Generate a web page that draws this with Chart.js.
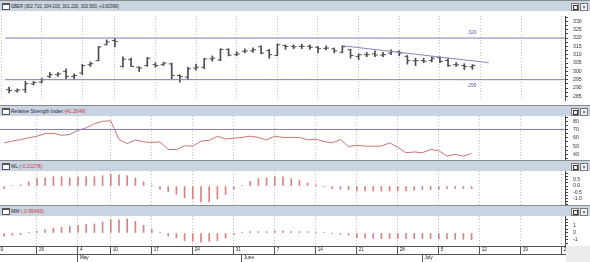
<!DOCTYPE html>
<html>
<head>
<meta charset="utf-8">
<script src="https://cdn.jsdelivr.net/npm/chart.js@4.4.1/dist/chart.umd.min.js"></script>
<style>
  body { margin:0; background:#fff; width:590px; height:262px; overflow:hidden; position:relative; font-family:"Liberation Sans", Arial, sans-serif; }
  .bar { position:absolute; left:0; width:590px; height:11px; background:#c8d4e1; border-top:1px solid #8c8c8c; box-sizing:border-box; font-size:5px; color:#2a2a2a; line-height:10px; white-space:nowrap; }
  .ic { position:absolute; left:2px; top:2px; width:6px; height:4px; border:1px solid #555; border-top-width:2px; background:#fff; }
  .tt { position:absolute; left:11px; top:0; transform-origin:left center; }
  .v { color:#d03a3a; }
  .btn { position:absolute; top:2px; width:6px; height:6px; border:1px solid #777; background:#f2f2f2; font-size:6px; line-height:6px; text-align:center; color:#222; }
  .btn i { position:absolute; left:1px; top:1px; width:3px; height:3px; border:1px solid #333; }
  canvas { position:absolute; left:0; }
  .corner { position:absolute; left:566px; top:246px; width:24px; height:16px; background:#ececec; }
</style>
</head>
<body>
<div class="bar" style="top:0"><span class="ic"></span><span class="tt" style="transform:scaleX(.88)">SBER (302.710, 304.100, 301.220, 303.560, +0.82999)</span><span class="btn" style="left:571px"><i></i></span><span class="btn" style="left:580px">×</span></div>
<canvas id="c1" width="590" height="94" style="top:11px"></canvas>
<div class="bar" style="top:105px"><span class="ic"></span><span class="tt">Relative Strength Index <span class="v">(41.2649)</span></span><span class="btn" style="left:571px"><i></i></span><span class="btn" style="left:580px">×</span></div>
<canvas id="c2" width="590" height="44" style="top:116px"></canvas>
<div class="bar" style="top:160px"><span class="ic"></span><span class="tt">ML <span class="v">(-0.21278)</span></span><span class="btn" style="left:571px"><i></i></span><span class="btn" style="left:580px">×</span></div>
<canvas id="c3" width="590" height="34" style="top:171px"></canvas>
<div class="bar" style="top:205px"><span class="ic"></span><span class="tt">MM <span class="v">(-0.95466)</span></span><span class="btn" style="left:571px"><i></i></span><span class="btn" style="left:580px">×</span></div>
<canvas id="c4" width="590" height="46" style="top:216px"></canvas>
<div class="corner"></div>
<script>
// one entry per trading day, index 0 = first bar on the left
const openP  = [289, 288.3, 289, 292.5, 293.5, 297, 298, 300, 297, 299, 304, 306.4, 316, 318.5, 303, 307, 302.5, 303.5, 304, 304,
                304.5, 297.5, 296.5, 302, 302.5, 307.5, 306.8, 313.2, 310, 312, 312.3, 314.8, 312.5, 309.5, 315.5, 315, 315, 315, 314.5, 313.8,
                313.5, 311.5, 313, 309, 310, 310.5, 309.8, 311, 311.8, 309, 306.4, 306.5, 306.5, 308.2, 306.5, 304, 303.5, 302.71];
const highP  = [290.5, 289.5, 294, 294, 296, 299.3, 299.3, 301.5, 298.5, 304.3, 305.7, 315, 318.9, 319.8, 308.7, 308, 302.8, 308.4, 305.2, 305.5,
                305, 298, 302.5, 304.3, 307.9, 309.3, 313.6, 313.6, 311.8, 313.6, 314.1, 315.4, 313.2, 316.4, 315.9, 315.9, 316.4, 315.9, 315, 315.4,
                314.1, 315.4, 313.2, 310.5, 311.4, 312.3, 311.4, 312.9, 312.3, 309.6, 307.9, 307.9, 308.8, 308.8, 307.9, 305.2, 304.6, 304.1];
const lowP   = [287, 287.5, 287.3, 291.8, 293, 296.2, 297, 295.5, 295.3, 298, 302.9, 306.4, 315.9, 314.7, 302.5, 303, 299.8, 303, 302.5, 303.5,
                295.5, 293.5, 295, 300.7, 301.6, 306.1, 306.4, 309.3, 309.3, 311.1, 311.4, 310.5, 307.9, 309.3, 313.2, 313.6, 313.6, 313.2, 311.1, 312.9,
                311.1, 311.1, 307.9, 307, 308.8, 308.8, 308.8, 310, 309.3, 304.3, 303.4, 305.2, 305.7, 305.2, 302.9, 302.9, 301.1, 301.22];
const closeP = [288.5, 288.8, 292.6, 293.2, 295, 298, 298.5, 297, 297.5, 303.4, 304.6, 314.7, 317.7, 318, 307.3, 303, 302, 307.8, 303.5, 305,
                297.5, 296.8, 301.6, 302.5, 307.5, 307.9, 313.2, 309.7, 310.5, 312.3, 313, 311, 310, 316, 315, 314.7, 315, 314.5, 313.6, 314,
                312.3, 314.7, 309.5, 310, 310, 309.8, 310, 311.8, 311, 306.4, 306.4, 306.1, 307.9, 306, 303.4, 303.9, 302.9, 303.56];
const rsi = [54, 56, 58, 60, 62, 65, 65.5, 63, 64, 69, 72, 77, 80, 80.5, 58, 53, 57.5, 55, 54.5, 55,
             46, 46, 50.5, 50, 56, 57, 62, 58.5, 59.5, 60.5, 62, 60.5, 57.5, 62, 60.5, 60.5, 60.5, 57.5, 58.5, 55.5,
             54, 58, 49.5, 51, 50, 50, 50, 54, 48.5, 42, 43, 42, 46, 44.5, 38, 40, 38, 41.26];
const ml = [-0.2, 0.05, 0.1, 0.33, 0.6, 0.65, 0.75, 0.75, 0.65, 0.75, 0.75, 0.75, 0.83, 0.94, 0.9, 0.83, 0.65, 0.33, 0.02, -0.25,
            -0.46, -0.67, -0.94, -1.05, -1.29, -1.29, -1.05, -0.67, -0.25, 0.05, 0.37, 0.6, 0.65, 0.75, 0.75, 0.6, 0.45, 0.25, 0.1, -0.05,
            -0.2, -0.25, -0.3, -0.4, -0.4, -0.4, -0.4, -0.4, -0.4, -0.4, -0.35, -0.3, -0.3, -0.28, -0.2, -0.2, -0.2, -0.21];
const mm = [-0.45, -0.33, -0.25, 0.05, 0.2, 0.48, 0.7, 0.8, 0.95, 1.1, 1.2, 1.3, 1.57, 1.9, 1.9, 2.0, 1.67, 1.1, 0.5, 0.05,
            -0.4, -0.7, -1.1, -1.2, -1.3, -1.2, -1.1, -0.7, -0.25, 0.1, 0.2, 0.2, 0.2, 0.3, 0.3, 0.2, 0.2, 0.2, 0.02, 0.1,
            -0.1, -0.2, -0.3, -0.7, -0.75, -0.75, -0.8, -0.8, -0.8, -0.8, -0.8, -0.8, -0.8, -0.85, -0.85, -0.9, -0.9, -0.95];

const weekTicks  = [-1, 4, 9, 13, 18, 23, 28, 33, 38, 43, 48, 53, 58, 63, 68];
const weekLabels = ['19', '26', '4', '10', '17', '24', '31', '7', '14', '21', '28', '5', '12', '19', '26'];
const monthTicks  = [9, 29, 51];
const monthLabels = ['May', 'June', 'July'];

const levels = [320, 295];
const rsiLevel = 70;
const trendX = [41, 59];
const trendY = [315.4, 305.2];

const priceLabels = [285, 290, 295, 300, 305, 310, 315, 320, 325, 330];
const rsiLabels = [40, 50, 60, 70, 80];
const mlLabels = [-1, -0.5, 0, 0.5];
const mmLabels = [-1, 0, 1];

/* ---------- shared look ---------- */
Chart.defaults.font.family = '"Liberation Sans", Arial, sans-serif';
Chart.defaults.animation = false;
Chart.defaults.events = [];
Chart.defaults.plugins.legend.display = false;
Chart.defaults.plugins.tooltip.enabled = false;

const X_MIN = -0.51, X_MAX = 68.39;
const BAR_INK = '#4c4c4c';
const LEVEL = '#7c7cba';
const HIST = '#da8282';

const steps = (a, b, s) => { const out = []; for (let v = a; v <= b + 1e-9; v += s) out.push({ value: +v.toFixed(4) }); return out; };

function xDays(withLabels) {
  return {
    type: 'linear', min: X_MIN, max: X_MAX, offset: false, weight: 0,
    afterBuildTicks: s => { s.ticks = weekTicks.map(v => ({ value: v })); },
    grid: { color: '#c2c2c2', offset: false, drawTicks: withLabels, tickLength: 8, tickColor: '#555', tickBorderDash: [] },
    border: { display: withLabels, color: '#555', dash: [1, 2] },
    ticks: { display: withLabels, autoSkip: false, maxRotation: 0, align: 'start', labelOffset: 2, padding: -6.7,
             color: '#222', font: { size: 4.6 }, callback: (v, i) => weekLabels[i] },
    afterFit: s => { s.height = withLabels ? 8 : 0; s.paddingLeft = 0; s.paddingRight = 0; }
  };
}

function yRight(min, max, step, labels, fmt) {
  return {
    type: 'linear', position: 'right', min, max,
    afterBuildTicks: s => { s.ticks = steps(Math.ceil(min / step) * step, max, step); },
    grid: { drawOnChartArea: false, tickLength: 3, tickColor: '#444' },
    border: { display: true, color: '#444' },
    ticks: { autoSkip: false, padding: 5, color: '#333', font: { size: 5.2 },
             callback: v => labels.some(l => Math.abs(l - v) < 1e-6) ? fmt(v) : '' },
    afterFit: s => { s.width = 25; s.paddingTop = 0; s.paddingBottom = 0; }
  };
}

/* ---------- price panel ---------- */
const levelText = {
  id: 'levelText',
  afterDatasetsDraw(chart) {
    const { ctx, scales: { x, y } } = chart;
    ctx.save();
    ctx.font = '5px "Liberation Sans"';
    ctx.fillStyle = '#5a5aa8';
    ctx.textAlign = 'center';
    ctx.textBaseline = 'middle';
    levels.forEach((v, i) => {
      ctx.fillText(String(v), x.getPixelForValue(57), y.getPixelForValue(v) + (i === 0 ? -5.5 : 5.5));
    });
    ctx.restore();
  }
};

new Chart(document.getElementById('c1'), {
  type: 'bar',
  plugins: [levelText],
  data: {
    datasets: [
      ...levels.map(v => ({ type: 'line', data: [{ x: X_MIN, y: v }, { x: X_MAX, y: v }], borderColor: LEVEL, borderWidth: 1, pointRadius: 0 })),
      { type: 'line', data: trendX.map((x, i) => ({ x, y: trendY[i] })), borderColor: '#8585c2', borderWidth: 1, pointRadius: 0 },
      { type: 'bar', data: highP.map((h, i) => ({ x: i, y: [lowP[i], h] })), backgroundColor: BAR_INK, barThickness: 1, grouped: false },
      { type: 'line', showLine: false, data: openP.map((o, i) => ({ x: i - 0.18, y: o })), pointStyle: 'line', pointRadius: 1.5, borderColor: BAR_INK, pointBorderWidth: 1 },
      { type: 'line', showLine: false, data: closeP.map((c, i) => ({ x: i + 0.18, y: c })), pointStyle: 'line', pointRadius: 1.5, borderColor: BAR_INK, pointBorderWidth: 1 }
    ]
  },
  options: {
    responsive: false,
    layout: { padding: 0 },
    scales: { x: xDays(false), y: yRight(282.8, 333.25, 2.5, priceLabels, v => String(v)) }
  }
});

/* ---------- RSI ---------- */
new Chart(document.getElementById('c2'), {
  type: 'line',
  data: {
    datasets: [
      { data: [{ x: X_MIN, y: rsiLevel }, { x: X_MAX, y: rsiLevel }], borderColor: LEVEL, borderWidth: 1, pointRadius: 0 },
      { data: rsi.map((v, i) => ({ x: i, y: v })), borderColor: '#c47676', borderWidth: 1, pointRadius: 0, tension: 0 }
    ]
  },
  options: {
    responsive: false,
    layout: { padding: 0 },
    scales: { x: xDays(false), y: yRight(33.3, 86.3, 5, rsiLabels, v => String(v)) }
  }
});

/* ---------- ML ---------- */
new Chart(document.getElementById('c3'), {
  type: 'bar',
  data: { datasets: [{ data: ml.map((v, i) => ({ x: i, y: v })), backgroundColor: HIST, barThickness: 1 }] },
  options: {
    responsive: false,
    layout: { padding: 0 },
    scales: { x: xDays(false), y: yRight(-1.53, 1.21, 0.25, mlLabels, v => v.toFixed(1)) }
  }
});

/* ---------- MM + date axis ---------- */
new Chart(document.getElementById('c4'), {
  type: 'bar',
  data: { datasets: [{ data: mm.map((v, i) => ({ x: i, y: v })), backgroundColor: HIST, barThickness: 1 }] },
  options: {
    responsive: false,
    layout: { padding: 0 },
    scales: {
      x: xDays(true),
      x2: {
        type: 'linear', position: 'bottom', min: X_MIN, max: X_MAX, offset: false, weight: 1,
        afterBuildTicks: s => { s.ticks = monthTicks.map(v => ({ value: v })); },
        grid: { drawOnChartArea: false, tickLength: 8, tickColor: '#555', offset: false },
        border: { display: true, color: '#555' },
        ticks: { autoSkip: false, maxRotation: 0, align: 'start', labelOffset: 2, padding: -6.7,
                 color: '#222', font: { size: 4.6 }, callback: (v, i) => monthLabels[i] },
        afterFit: s => { s.height = 8; s.paddingLeft = 0; s.paddingRight = 0; }
      },
      y: yRight(-1.86, 2.43, 0.5, mmLabels, v => String(v))
    }
  }
});
</script>
</body>
</html>
